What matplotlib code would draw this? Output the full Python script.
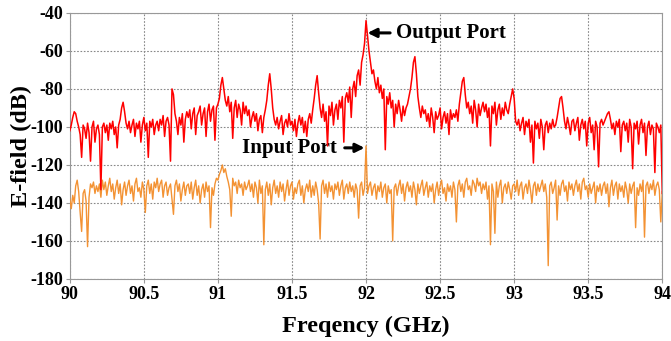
import matplotlib
matplotlib.use("Agg")
import matplotlib.pyplot as plt
import numpy as np

plt.rcParams["axes.unicode_minus"] = False

# frequency grid 90..94 GHz, 0.01 GHz step
freq = np.round(np.arange(90.0, 94.0001, 0.01), 2)

# output port spectrum (dB) (0.2 GHz per row)
output_db = [
    -102, -99, -95, -92, -93, -97, -100, -104, -116, -99, -101, -106, -98, -103, -118, -100, -97, -108, -101, -99,
    -104, -133, -100, -98, -103, -99, -107, -98, -101, -97, -104, -100, -111, -99, -96, -90, -87, -92, -98, -101,
    -97, -103, -99, -96, -105, -98, -101, -97, -108, -99, -95, -102, -98, -116, -97, -100, -96, -104, -99, -97,
    -102, -96, -99, -94, -105, -97, -95, -99, -118, -80, -83, -93, -97, -104, -95, -99, -93, -108, -96, -92,
    -95, -91, -101, -93, -90, -104, -94, -92, -89, -99, -93, -90, -105, -92, -88, -97, -91, -89, -107, -90,
    -88, -85, -78, -74, -80, -86, -89, -84, -92, -87, -106, -90, -86, -95, -88, -91, -99, -87, -93, -89,
    -94, -91, -100, -95, -92, -97, -93, -102, -96, -94, -103, -95, -91, -86, -78, -72, -80, -90, -96, -99,
    -95, -101, -97, -94, -104, -98, -96, -100, -93, -99, -97, -102, -96, -105, -98, -94, -99, -95, -103, -97,
    -105, -96, -93, -98, -91, -85, -78, -73, -82, -90, -95, -88, -97, -92, -110, -89, -94, -87, -99, -91,
    -88, -96, -86, -90, -84, -108, -85, -82, -87, -79, -95, -80, -76, -84, -73, -70, -78, -66, -62, -56,
    -44, -52, -60, -66, -72, -70, -76, -80, -74, -82, -78, -85, -80, -112, -84, -88, -82, -90, -86, -100,
    -88, -93, -86, -91, -97, -89, -94, -90, -88, -84, -80, -74, -66, -63, -72, -84, -90, -95, -89, -93,
    -91, -97, -93, -100, -90, -95, -103, -92, -96, -94, -90, -101, -95, -92, -98, -93, -104, -91, -96, -93,
    -95, -91, -97, -88, -82, -76, -74, -83, -90, -87, -93, -89, -98, -86, -91, -100, -88, -94, -90, -87,
    -92, -88, -95, -90, -110, -89, -93, -87, -99, -91, -88, -96, -90, -94, -87, -91, -93, -88, -84, -80,
    -85, -97, -99, -96, -102, -98, -95, -104, -97, -100, -96, -108, -99, -119, -97, -101, -98, -106, -96, -100,
    -112, -99, -97, -103, -98, -101, -96, -100, -99, -95, -90, -85, -84, -90, -97, -101, -95, -99, -104, -97,
    -96, -102, -98, -95, -107, -99, -96, -101, -97, -110, -98, -95, -103, -99, -112, -97, -100, -121, -98, -96,
    -99, -97, -95, -93, -92, -96, -101, -98, -104, -97, -100, -96, -113, -99, -97, -102, -98, -108, -96, -100,
    -122, -98, -101, -97, -109, -99, -96, -103, -98, -115, -100, -97, -104, -99, -101, -124, -98, -100, -103, -99,
    -135,
]

# input port spectrum (dB)
input_db = [
    -138, -143, -136, -140, -131, -128, -134, -145, -155, -135, -133, -139, -163, -137, -130, -132, -129, -135, -131, -134,
    -130, -137, -128, -133, -129, -136, -131, -127, -134, -130, -138, -132, -128, -135, -130, -141, -133, -129, -136, -131,
    -128, -135, -131, -139, -130, -127, -134, -132, -137, -129, -133, -145, -131, -128, -135, -130, -138, -129, -132, -127,
    -134, -130, -128, -137, -131, -129, -136, -132, -130, -138, -146, -131, -128, -134, -130, -139, -133, -129, -136, -131,
    -130, -135, -129, -138, -132, -128, -136, -131, -140, -133, -130, -137, -129, -134, -131, -153, -132, -136, -130, -127,
    -128, -125, -123, -120, -124, -122, -126, -129, -133, -147, -127, -131, -129, -135, -128, -132, -130, -136, -129, -133,
    -131, -128, -134, -130, -137, -129, -132, -140, -128, -135, -131, -162, -133, -129, -136, -130, -141, -132, -128, -135,
    -131, -137, -129, -134, -130, -139, -133, -128, -136, -131, -129, -138, -132, -135, -130, -128, -136, -131, -140, -133,
    -130, -134, -128, -137, -131, -136, -129, -133, -140, -159, -131, -128, -135, -130, -137, -129, -134, -131, -138, -130,
    -133, -129, -136, -131, -128, -138, -132, -130, -135, -129, -134, -131, -137, -130, -133, -148, -131, -129, -136, -132,
    -110, -135, -131, -129, -136, -132, -130, -138, -131, -134, -129, -137, -132, -130, -140, -131, -135, -133, -160, -132,
    -130, -136, -131, -128, -135, -130, -139, -132, -129, -134, -131, -137, -129, -133, -141, -130, -135, -131, -128, -136,
    -132, -129, -137, -131, -134, -130, -140, -133, -129, -136, -131, -128, -135, -132, -139, -130, -134, -131, -137, -129,
    -133, -150, -131, -128, -134, -130, -137, -129, -127, -133, -131, -136, -128, -130, -134, -127, -131, -129, -135, -130,
    -133, -129, -138, -131, -162, -130, -134, -156, -129, -137, -131, -128, -140, -132, -130, -135, -129, -133, -138, -131,
    -130, -134, -128, -136, -131, -129, -138, -132, -130, -135, -128, -133, -140, -131, -129, -136, -130, -134, -131, -128,
    -134, -130, -137, -173, -131, -129, -135, -132, -128, -149, -131, -136, -130, -128, -134, -131, -139, -129, -133, -130,
    -136, -131, -128, -134, -130, -138, -129, -127, -133, -131, -137, -130, -135, -132, -129, -140, -131, -134, -130, -136,
    -131, -129, -135, -130, -142, -132, -128, -136, -131, -129, -138, -130, -134, -131, -137, -129, -133, -140, -130, -135,
    -131, -129, -153, -132, -136, -130, -134, -128, -158, -131, -129, -135, -130, -133, -128, -136, -131, -129, -133, -150,
    -134,
]

xticks = [90, 90.5, 91, 91.5, 92, 92.5, 93, 93.5, 94]
xtick_labels = ["90", "90.5", "91", "91.5", "92", "92.5", "93", "93.5", "94"]
yticks = [-180, -160, -140, -120, -100, -80, -60, -40]

serif = ["Liberation Serif", "DejaVu Serif"]

fig = plt.figure(figsize=(6.71, 3.41), dpi=100)
ax = fig.add_axes([0.104, 0.182, 0.883, 0.78])

ax.plot(freq, input_db, color="#f39233", lw=1.0, zorder=3)
ax.plot(freq, output_db, color="#ff0000", lw=1.1, zorder=4)

ax.set_xlim(90, 94)
ax.set_ylim(-180, -40)
ax.set_xticks(xticks)
ax.set_xticklabels(xtick_labels)
ax.set_yticks(yticks)
ax.grid(True, color="#888888", ls=(0, (1.5, 1.5)), lw=0.8, zorder=0)
for s in ax.spines.values():
    s.set_color("#999999")
ax.tick_params(length=3, color="#999999", labelsize=13, pad=2)
for lab in ax.get_xticklabels() + ax.get_yticklabels():
    lab.set_family(serif)
    lab.set_fontweight("bold")

ax.set_xlabel("Freqency (GHz)", family=serif, fontweight="bold", fontsize=17.5)
ax.set_ylabel("E-field (dB)", family=serif, fontweight="bold", fontsize=17.5)
ax.xaxis.set_label_coords(0.5, -0.14)
ax.yaxis.set_label_coords(-0.064, 0.5)

ax.annotate("Output Port", xy=(92.01, -50.5), xytext=(92.2, -50.5),
            family=serif, fontweight="bold", fontsize=15, va="center", ha="left",
            arrowprops=dict(arrowstyle="-|>", color="black", lw=2.2, mutation_scale=13,
                            shrinkA=2, shrinkB=0))
ax.annotate("Input Port", xy=(91.99, -111), xytext=(91.8, -111),
            family=serif, fontweight="bold", fontsize=15, va="center", ha="right",
            arrowprops=dict(arrowstyle="-|>", color="black", lw=2.2, mutation_scale=13,
                            shrinkA=4, shrinkB=0))

fig.savefig("out.png", dpi=100)
